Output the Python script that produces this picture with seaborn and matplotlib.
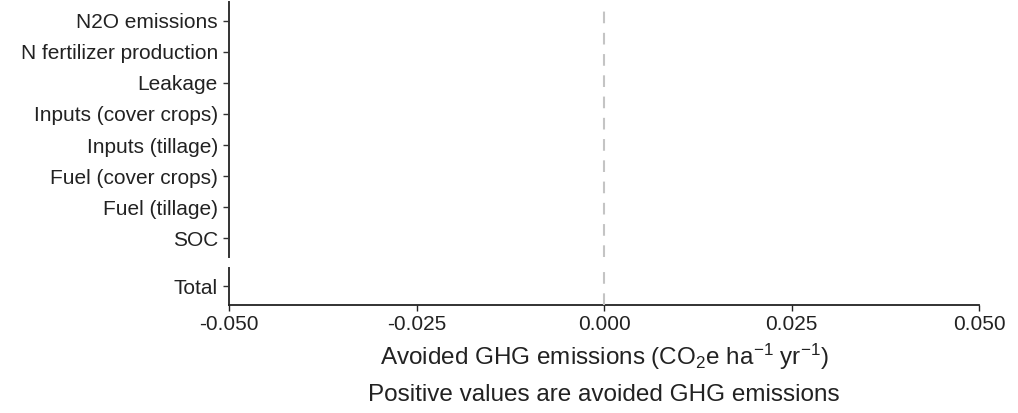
import numpy as np
import pandas as pd
import matplotlib
matplotlib.use("Agg")
import matplotlib.pyplot as plt
import seaborn as sns

# Emission components (top panel, listed top to bottom) and the net total
components = [
    "N2O emissions",
    "N fertilizer production",
    "Leakage",
    "Inputs (cover crops)",
    "Inputs (tillage)",
    "Fuel (cover crops)",
    "Fuel (tillage)",
    "SOC",
]
component_values = [0.0, 0.0, 0.0, 0.0, 0.0, 0.0, 0.0, 0.0]
total_label = ["Total"]
total_values = [0.0]

x_ticks = [-0.050, -0.025, 0.000, 0.025, 0.050]
x_tick_labels = ["-0.050", "-0.025", "0.000", "0.025", "0.050"]

sns.set_theme(style="ticks")
plt.rcParams["font.family"] = ["Liberation Sans", "DejaVu Sans"]
plt.rcParams["mathtext.fontset"] = "custom"
plt.rcParams["mathtext.rm"] = "Liberation Sans"
plt.rcParams["mathtext.it"] = "Liberation Sans:italic"

TEXT = "#222222"
FS = 15
FS_TITLE = 17.5

fig = plt.figure(figsize=(10.18, 4.13), dpi=100)
left, right = 0.225, 0.9617
ax_top = fig.add_axes([left, 0.3777, right - left, 0.9952 - 0.3777])
ax_bot = fig.add_axes([left, 0.2615, right - left, 0.3511 - 0.2615], sharex=ax_top)

df_top = pd.DataFrame({"component": components, "value": component_values})
df_bot = pd.DataFrame({"component": total_label, "value": total_values})

sns.barplot(data=df_top, x="value", y="component", orient="h", ax=ax_top,
            color="#4d4d4d", errorbar=None, width=0.7, linewidth=0)
sns.barplot(data=df_bot, x="value", y="component", orient="h", ax=ax_bot,
            color="#4d4d4d", errorbar=None, width=0.7, linewidth=0)

ax_top.set_ylim(len(components) - 1 + 0.6, -0.6)
ax_bot.set_ylim(0.6, -0.6)
ax_top.set_xlim(-0.05, 0.05)

for ax in (ax_top, ax_bot):
    ax.axvline(0, color="#c4c4c4", lw=1.5, linestyle=(0, (5.6, 4.6)), zorder=3)
    ax.set_ylabel("")
    ax.set_xlabel("")
    sns.despine(ax=ax)
    ax.spines["left"].set_color("#333333")
    ax.spines["left"].set_linewidth(1.4)
    ax.tick_params(axis="y", length=4, width=1.0, color="#333333",
                   labelsize=FS, labelcolor=TEXT, pad=4)

ax_top.spines["bottom"].set_visible(False)
ax_top.tick_params(axis="x", bottom=False, labelbottom=False)

ax_bot.spines["bottom"].set_color("#222222")
ax_bot.spines["bottom"].set_linewidth(1.3)
ax_bot.set_xticks(x_ticks)
ax_bot.set_xticklabels(x_tick_labels)
ax_bot.tick_params(axis="x", length=4, width=1.0, color="#222222",
                   labelsize=FS, labelcolor=TEXT, pad=3)
ax_bot.set_xlabel(r"Avoided GHG emissions (CO$_2$e ha$^{-1}$ yr$^{-1}$)",
                  fontsize=FS_TITLE, color=TEXT, labelpad=6)

fig.text((left + right) / 2, 0.043, "Positive values are avoided GHG emissions",
         ha="center", va="center", fontsize=FS_TITLE, color=TEXT)

fig.savefig("out.png", dpi=100)
